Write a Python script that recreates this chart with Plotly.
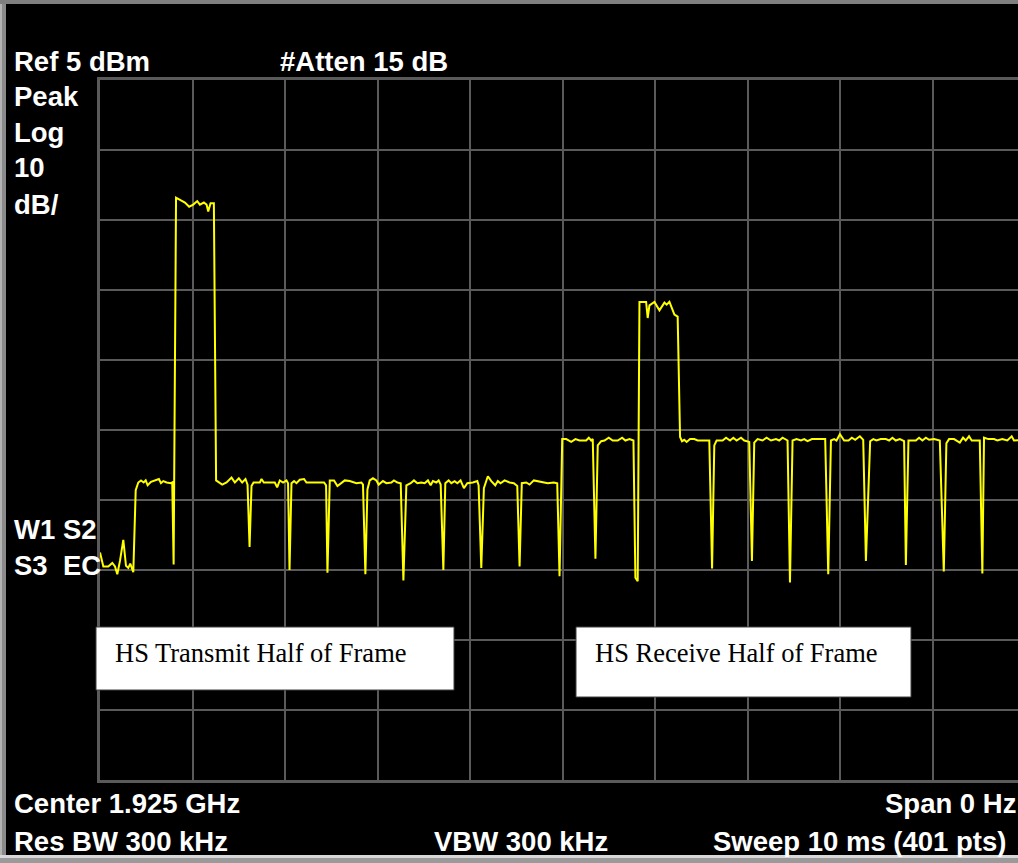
import plotly.graph_objects as go

# ---------------- data ----------------
# Sweep time (ms) and level (dBm) — transmit half of the frame
tx_time_ms = [
    0.000, 0.036, 0.090, 0.133, 0.162, 0.187, 0.216, 0.252, 0.281, 0.306, 0.327, 0.360,
    0.386, 0.414, 0.443, 0.472, 0.494, 0.515, 0.551, 0.594, 0.637, 0.659, 0.684, 0.720,
    0.767, 0.781, 0.796,
    0.822, 0.882, 0.918, 0.964, 1.008, 1.051, 1.080, 1.123, 1.152, 1.170, 1.195, 1.231,
    1.255, 1.321, 1.368, 1.422, 1.458, 1.501, 1.537, 1.573, 1.595, 1.617, 1.638, 1.660,
    1.728, 1.746, 1.771, 1.890, 1.915, 1.944, 1.979, 2.016, 2.033, 2.049, 2.070, 2.098,
    2.124, 2.160, 2.206, 2.232, 2.286, 2.322, 2.365, 2.422, 2.444, 2.459, 2.484, 2.530,
    2.567, 2.603, 2.646, 2.700, 2.735, 2.772, 2.826, 2.843, 2.869, 2.891, 2.916, 2.951,
    2.988, 3.013, 3.059, 3.096, 3.150, 3.178, 3.215, 3.251, 3.280, 3.312, 3.359, 3.394,
    3.431, 3.474, 3.510, 3.545, 3.575, 3.599, 3.636, 3.661, 3.683, 3.712, 3.733, 3.769,
    3.798, 3.834, 3.863, 3.898, 3.934, 3.971, 4.031, 4.079, 4.093, 4.122, 4.150, 4.193,
    4.230, 4.273, 4.301, 4.330, 4.374, 4.428, 4.474, 4.511, 4.536, 4.560, 4.608, 4.644,
    4.690, 4.733, 4.787, 4.841, 4.906, 4.943, 4.968,
]
tx_level_dbm = [
    -62.5, -64.5, -64.5, -64.0, -64.5, -65.6, -63.7, -60.7, -64.4, -64.7, -64.1, -65.3,
    -53.6, -52.5, -52.2, -52.5, -52.2, -52.9, -52.4, -52.2, -52.0, -52.6, -52.3, -52.5,
    -52.6, -52.5, -64.2,
    -11.8, -12.2, -12.5, -13.1, -12.8, -12.3, -12.8, -12.5, -12.8, -13.8, -12.6, -12.6,
    -52.2, -52.8, -52.5, -51.8, -52.5, -51.9, -52.5, -52.0, -52.8, -61.7, -53.0, -52.5,
    -52.5, -52.0, -52.5, -52.5, -53.2, -52.2, -52.5, -52.2, -52.6, -65.0, -52.6, -52.3,
    -52.6, -52.1, -52.0, -52.5, -52.5, -52.6, -52.5, -52.5, -52.9, -65.4, -52.2, -52.2,
    -53.0, -52.6, -52.2, -52.3, -52.5, -52.6, -52.5, -52.8, -65.6, -53.5, -52.2, -51.9,
    -52.2, -52.8, -52.3, -52.6, -52.5, -52.2, -52.5, -52.6, -66.5, -52.9, -52.6, -52.2,
    -52.6, -52.5, -52.6, -52.2, -52.9, -52.3, -52.5, -52.2, -52.8, -65.0, -52.6, -52.2,
    -52.6, -52.3, -52.6, -52.2, -53.3, -52.6, -52.5, -52.3, -52.9, -64.7, -53.3, -51.6,
    -52.3, -52.9, -52.3, -52.6, -52.2, -52.5, -52.6, -53.0, -64.5, -52.6, -52.5, -52.8,
    -52.2, -52.3, -52.5, -52.6, -52.5, -52.6, -65.9,
]

# Receive half of the frame
rx_time_ms = [
    4.997, 5.040, 5.094, 5.140, 5.184, 5.256, 5.284, 5.310, 5.327, 5.356, 5.381, 5.418,
    5.454, 5.500, 5.543, 5.597, 5.645, 5.680, 5.724, 5.767, 5.788, 5.813,
    5.832, 5.904, 5.921, 5.940, 5.994, 6.048, 6.102, 6.126, 6.156, 6.210, 6.245,
    6.271, 6.292, 6.317, 6.342, 6.379, 6.425, 6.461, 6.587, 6.617, 6.641, 6.666, 6.731,
    6.768, 6.811, 6.847, 6.882, 6.930, 6.965, 7.019, 7.048, 7.073, 7.109, 7.163, 7.206,
    7.254, 7.308, 7.343, 7.379, 7.433, 7.459, 7.487, 7.530, 7.578, 7.613, 7.649, 7.697,
    7.840, 7.873, 7.902, 7.937, 7.962, 7.999, 8.045, 8.092, 8.128, 8.164, 8.215, 8.251,
    8.280, 8.326, 8.359, 8.394, 8.441, 8.496, 8.531, 8.567, 8.603, 8.647, 8.693, 8.712,
    8.740, 8.820, 8.855, 8.891, 8.928, 8.963, 9.017, 9.079, 9.122, 9.150, 9.179, 9.233,
    9.295, 9.330, 9.359, 9.395, 9.424, 9.511, 9.539, 9.557, 9.604, 9.665, 9.701, 9.754,
    9.809, 9.856, 9.881, 9.930, 10.000,
]
rx_level_dbm = [
    -46.3, -46.3, -46.7, -46.3, -46.5, -46.5, -46.1, -46.5, -46.3, -63.4, -47.2, -46.6,
    -46.5, -46.1, -46.5, -46.5, -46.1, -46.5, -46.3, -46.5, -66.1, -66.6,
    -26.7, -26.7, -29.0, -27.2, -26.7, -27.9, -26.8, -27.1, -26.7, -28.5, -28.8,
    -46.0, -46.6, -46.4, -46.7, -46.3, -46.3, -46.5, -46.5, -64.8, -47.2, -46.5, -46.5,
    -46.1, -46.5, -46.1, -46.5, -46.1, -46.5, -46.7, -63.7, -46.8, -46.3, -46.5, -46.1,
    -46.5, -46.3, -46.5, -46.1, -46.5, -66.8, -46.5, -46.3, -46.5, -46.3, -46.6, -46.3,
    -46.3, -65.6, -46.5, -46.3, -46.5, -45.6, -46.5, -46.5, -46.1, -46.4, -45.9, -46.4,
    -63.7, -46.6, -46.3, -46.5, -46.3, -46.3, -46.5, -46.1, -46.5, -46.3, -46.6, -64.3,
    -46.5, -46.5, -46.1, -46.5, -46.1, -46.4, -46.3, -46.5, -65.2, -46.9, -46.3, -46.3,
    -46.8, -46.1, -46.5, -45.9, -46.5, -46.5, -65.5, -46.1, -46.3, -46.3, -46.5, -46.3,
    -46.5, -45.9, -46.5, -46.5, -46.4,
]

ref_level_dbm = 5
db_per_div = 10
n_div = 10
sweep_ms = 10

header_labels = ["Ref 5 dBm", "#Atten 15 dB"]
side_labels = ["Peak", "Log", "10", "dB/"]
status_labels = [["W1", "S2"], ["S3", "EC"]]
footer_labels = ["Center 1.925 GHz", "Span 0 Hz", "Res BW 300 kHz", "VBW 300 kHz",
                 "Sweep 10 ms (401 pts)"]
box_labels = ["HS Transmit Half of Frame", "HS Receive Half of Frame"]

# ---------------- figure ----------------
W, H = 1018, 863
L, T, B = 100, 80, 83
PW, PH = W - L, H - T - B


def px(x):  # pixel -> paper x
    return (x - L) / PW


def py(y):  # pixel -> paper y
    return (H - B - y) / PH


fig = go.Figure()
fig.add_trace(go.Scatter(
    x=tx_time_ms + rx_time_ms,
    y=tx_level_dbm + rx_level_dbm,
    mode="lines",
    line=dict(color="#ffff00", width=2),
    hoverinfo="skip",
    showlegend=False,
))

grid = "#5a5a5a"
x_visible = sweep_ms * PW / 925.0  # graticule is wider than the window

fig.update_xaxes(range=[0, x_visible], tick0=0, dtick=sweep_ms / n_div, showgrid=True,
                 gridcolor=grid, gridwidth=2, showline=True, linecolor=grid, linewidth=3,
                 mirror=True, showticklabels=False, ticks="", zeroline=False)
fig.update_yaxes(range=[ref_level_dbm - n_div * db_per_div, ref_level_dbm], tick0=5,
                 dtick=db_per_div, showgrid=True, gridcolor=grid, gridwidth=2,
                 showline=True, linecolor=grid, linewidth=3, mirror=False,
                 showticklabels=False, ticks="", zeroline=False)

shapes = []
# outer grey frame
shapes.append(dict(type="rect", xref="paper", yref="paper", x0=px(0), x1=px(6), y0=py(H), y1=py(0),
                   fillcolor="#8a8a8a", line=dict(width=0), layer="above"))
shapes.append(dict(type="rect", xref="paper", yref="paper", x0=px(0), x1=px(2), y0=py(H), y1=py(0),
                   fillcolor="#b4b4b4", line=dict(width=0), layer="above"))
shapes.append(dict(type="rect", xref="paper", yref="paper", x0=px(0), x1=px(W), y0=py(4), y1=py(0),
                   fillcolor="#808080", line=dict(width=0), layer="above"))
shapes.append(dict(type="rect", xref="paper", yref="paper", x0=px(0), x1=px(W), y0=py(H), y1=py(855),
                   fillcolor="#9a9a9a", line=dict(width=0), layer="above"))
shapes.append(dict(type="rect", xref="paper", yref="paper", x0=px(0), x1=px(W), y0=py(858), y1=py(855),
                   fillcolor="#d8d8d8", line=dict(width=0), layer="above"))
# white text boxes
shapes.append(dict(type="rect", xref="paper", yref="paper", x0=px(96), x1=px(454), y0=py(690), y1=py(627),
                   fillcolor="white", line=dict(color="#404040", width=1), layer="above"))
shapes.append(dict(type="rect", xref="paper", yref="paper", x0=px(576), x1=px(911), y0=py(697), y1=py(627),
                   fillcolor="white", line=dict(color="#404040", width=1), layer="above"))
# diagnostic cover of the top-right corner region (no data there)
shapes.append(dict(type="rect", xref="paper", yref="paper", x0=px(1005), x1=px(W + 5), y0=py(40), y1=py(6),
                   fillcolor="black", line=dict(width=0), layer="above"))

bold = dict(family="Liberation Sans, Arial, sans-serif", size=27.5, color="white", weight="bold")
serif = dict(family="Liberation Serif, Times New Roman, serif", size=26.5, color="black")

ann = []


def label(text, x, y, anchor="left", font=bold):
    ann.append(dict(text=text, x=px(x), y=py(y), xref="paper", yref="paper", xanchor=anchor,
                    yanchor="middle", showarrow=False, font=font, borderpad=0))


label(header_labels[0], 13, 62)
label(header_labels[1], 279, 62)
for i, s in enumerate(side_labels):
    label(s, 13, 96 + 36 * i)
label(status_labels[0][0], 13, 529)
label(status_labels[0][1], 62, 529)
label(status_labels[1][0], 13, 565)
label(status_labels[1][1], 62, 565)
label(footer_labels[0], 13, 803)
label(footer_labels[1], 1017, 803, anchor="right")
label(footer_labels[2], 13, 841)
label(footer_labels[3], 433, 841)
label(footer_labels[4], 1007, 841, anchor="right")
label(box_labels[0], 114, 653, font=serif)
label(box_labels[1], 594, 653, font=serif)

fig.update_layout(
    width=W, height=H,
    margin=dict(l=L, r=0, t=T, b=B, pad=0),
    paper_bgcolor="black", plot_bgcolor="black",
    shapes=shapes, annotations=ann,
    showlegend=False,
)

fig.write_html("out.html", config={"displayModeBar": False},
               post_script="document.body.style.margin='0';document.body.style.overflow='hidden';"
                           "document.body.style.background='black';")
